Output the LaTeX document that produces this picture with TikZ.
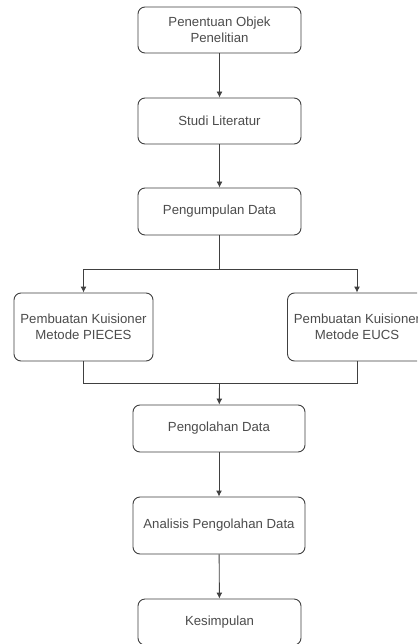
\documentclass[tikz,border=0pt]{standalone}
\usepackage{fontspec}
\setmainfont{Liberation Sans}
\usetikzlibrary{arrows.meta}
\begin{document}
\begin{tikzpicture}[x=1pt,y=1pt,
  box/.style={draw=black!75, line width=0.9pt, rounded corners=7pt, fill=white,
    align=center, inner sep=0pt, text=black!70,
    font=\fontsize{13.2}{16}\selectfont},
  conn/.style={draw=black!75, line width=0.9pt},
  arr/.style={conn, -{Latex[length=6pt,width=6pt]}}]
\useasboundingbox (0,0) rectangle (417,-644);
\clip (0,0) rectangle (417,-644);
\fill[white] (0,0) rectangle (417,-644);
\node[box, minimum width=163pt, minimum height=46pt] (b1) at (219.5,-30) {Penentuan Objek\\Penelitian};
\node[box, minimum width=163pt, minimum height=46pt] (b2) at (219.5,-121) {Studi Literatur};
\node[box, minimum width=163pt, minimum height=47pt] (b3) at (219.5,-211.5) {Pengumpulan Data};
\node[box, minimum width=139pt, minimum height=68pt] (left) at (83.5,-327) {Pembuatan Kuisioner\\Metode PIECES};
\node[box, minimum width=139pt, minimum height=68pt] (right) at (357,-327) {Pembuatan Kuisioner\\Metode EUCS};
\node[box, minimum width=172pt, minimum height=47pt] (pg) at (219,-428.5) {Pengolahan Data};
\node[box, minimum width=172pt, minimum height=57pt] (an) at (219,-525.5) {Analisis Pengolahan Data};
\node[box, minimum width=163pt, minimum height=46pt] (ks) at (219.5,-622) {Kesimpulan};
\coordinate (split) at (219.5,-269);
\coordinate (merge) at (219.5,-383);
\draw[arr] (b1) -- (b2);
\draw[arr] (b2) -- (b3);
\draw[conn] (b3) -- (split);
\draw[arr] (split) -| (left);
\draw[arr] (split) -| (right);
\draw[conn] (left) |- (merge);
\draw[conn] (right) |- (merge);
\draw[arr] (merge) -- (pg);
\draw[arr] (pg) -- (an);
\draw[arr] (an) -- (ks);
\end{tikzpicture}
\end{document}
